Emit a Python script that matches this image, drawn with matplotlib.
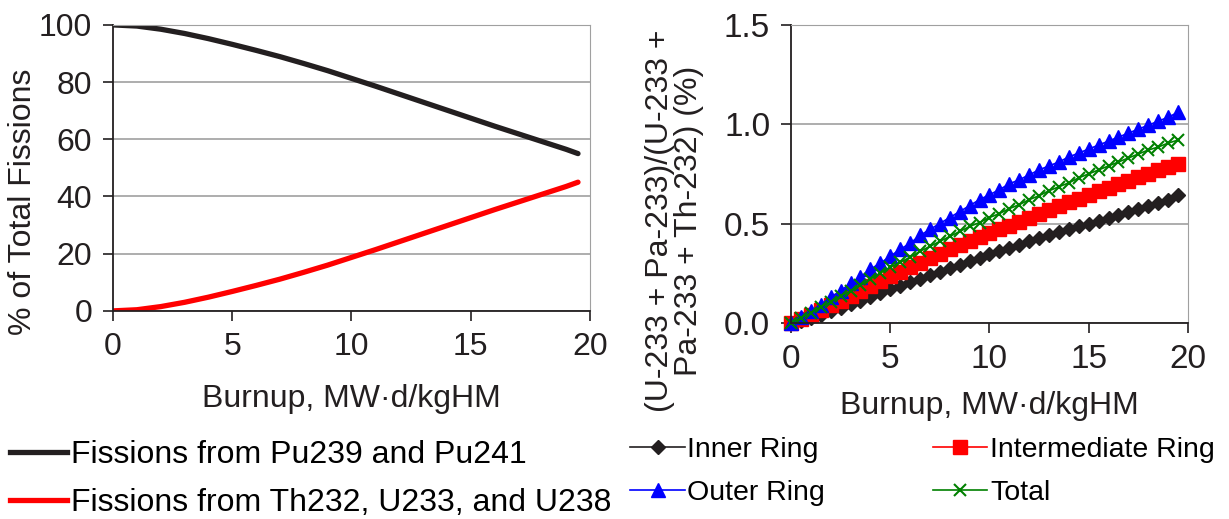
import matplotlib.pyplot as plt
from matplotlib.lines import Line2D

plt.rcParams['font.family'] = ['Liberation Sans', 'DejaVu Sans']

# left panel: share of fissions vs burnup
burnup_a = [0, 1, 2, 3, 4, 5, 6, 7, 8, 9, 10, 11, 12, 13, 14, 15, 16, 17, 18, 19, 19.5]
pu_fis = [100, 99.6, 98.5, 97.0, 95.2, 93.2, 91.1, 88.9, 86.5, 84.0, 81.3,
          78.6, 75.8, 73.0, 70.2, 67.4, 64.6, 61.9, 59.2, 56.5, 55.0]
th_fis = [0, 0.4, 1.5, 3.0, 4.8, 6.8, 8.9, 11.1, 13.5, 16.0, 18.7,
          21.4, 24.2, 27.0, 29.8, 32.6, 35.4, 38.1, 40.8, 43.5, 45.0]

# right panel: U-233 + Pa-233 fraction by ring
burnup_b = [i * 0.5 for i in range(40)]
inner = [0.0, 0.01, 0.025, 0.04, 0.06, 0.075, 0.095, 0.11, 0.13, 0.15,
         0.17, 0.185, 0.205, 0.22, 0.24, 0.255, 0.275, 0.29, 0.31, 0.325,
         0.345, 0.36, 0.375, 0.39, 0.41, 0.425, 0.44, 0.455, 0.47, 0.485,
         0.5, 0.515, 0.53, 0.545, 0.56, 0.575, 0.59, 0.605, 0.62, 0.645]
intermediate = [0.0, 0.02, 0.04, 0.065, 0.09, 0.11, 0.135, 0.16, 0.185, 0.21,
                0.235, 0.255, 0.28, 0.3, 0.325, 0.345, 0.37, 0.39, 0.41, 0.43,
                0.45, 0.47, 0.49, 0.51, 0.53, 0.55, 0.57, 0.59, 0.61, 0.625,
                0.645, 0.665, 0.68, 0.7, 0.715, 0.735, 0.75, 0.77, 0.785, 0.8]
outer = [0.0, 0.03, 0.06, 0.09, 0.13, 0.16, 0.2, 0.23, 0.27, 0.3,
         0.335, 0.37, 0.4, 0.44, 0.47, 0.5, 0.53, 0.56, 0.59, 0.62,
         0.645, 0.67, 0.7, 0.72, 0.745, 0.77, 0.79, 0.81, 0.835, 0.855,
         0.875, 0.895, 0.915, 0.935, 0.955, 0.975, 0.995, 1.015, 1.035, 1.06]
total = [0.0, 0.025, 0.05, 0.08, 0.105, 0.135, 0.16, 0.19, 0.22, 0.25,
         0.28, 0.305, 0.33, 0.36, 0.385, 0.41, 0.435, 0.46, 0.485, 0.505,
         0.53, 0.55, 0.575, 0.595, 0.62, 0.64, 0.665, 0.685, 0.705, 0.73,
         0.75, 0.77, 0.79, 0.81, 0.83, 0.85, 0.87, 0.885, 0.905, 0.92]

fig = plt.figure(figsize=(12.29, 5.19), dpi=100)
ax1 = fig.add_axes([0.092, 0.401, 0.388, 0.551])
ax2 = fig.add_axes([0.6436, 0.378, 0.323, 0.574])

ink = '#231f20'


def style_axes(ax, fs):
    ax.grid(axis='y', color='#a0a0a0', linewidth=1.2)
    ax.set_axisbelow(True)
    for s in ['top', 'right']:
        ax.spines[s].set_color('#a0a0a0')
    for s in ['left', 'bottom']:
        ax.spines[s].set_color(ink)
        ax.spines[s].set_linewidth(1.3)
    ax.tick_params(labelsize=fs, colors=ink, length=7, width=1.2, pad=8)


ax1.plot(burnup_a, pu_fis, color=ink, lw=3.8, solid_capstyle='round')
ax1.plot(burnup_a, th_fis, color='#ff0000', lw=3.8, solid_capstyle='round')
ax1.set_xlim(0, 20)
ax1.set_ylim(0, 100)
ax1.set_xticks([0, 5, 10, 15, 20])
ax1.set_yticks([0, 20, 40, 60, 80, 100])
style_axes(ax1, 23)
ax1.set_xlabel('Burnup, MW\u00b7d/kgHM', fontsize=23, color=ink, labelpad=16)
ax1.set_ylabel('% of Total Fissions', fontsize=23, color=ink)
ax1.yaxis.set_label_coords(-0.157, 0.381)

ax2.plot(burnup_b, inner, color=ink, marker='D', ms=7.5, lw=1.2, clip_on=False)
ax2.plot(burnup_b, intermediate, color='#ff0000', marker='s', ms=9.8, lw=1.2, clip_on=False)
ax2.plot(burnup_b, outer, color='#0000ff', marker='^', ms=10.5, lw=1.2, clip_on=False)
ax2.plot(burnup_b, total, color='#008000', marker='x', ms=8, mew=1.5, lw=1.2, clip_on=False)
ax2.set_xlim(0, 20)
ax2.set_ylim(0, 1.5)
ax2.set_xticks([0, 5, 10, 15, 20])
ax2.set_yticks([0.0, 0.5, 1.0, 1.5])
ax2.set_yticklabels(['0.0', '0.5', '1.0', '1.5'])
style_axes(ax2, 24)
ax2.set_xlabel('Burnup, MW\u00b7d/kgHM', fontsize=23, color=ink, labelpad=12)
ax2.set_ylabel('(U-233 + Pa-233)/(U-233 +\nPa-233 + Th-232) (%)', fontsize=23,
               color=ink, linespacing=0.95)
ax2.yaxis.set_label_coords(-0.219, 0.342)

left_handles = [Line2D([], [], color=ink, lw=3.8),
                Line2D([], [], color='#ff0000', lw=3.8)]
fig.legend(left_handles,
           ['Fissions from Pu239 and Pu241', 'Fissions from Th232, U233, and U238'],
           loc='upper left', bbox_to_anchor=(0.008, 0.152), frameon=False,
           fontsize=23, handlelength=1.8, handletextpad=0.1, labelspacing=0.55,
           borderaxespad=0, borderpad=0)

right_handles = [Line2D([], [], color=ink, marker='D', ms=7.5, lw=1.2),
                 Line2D([], [], color='#0000ff', marker='^', ms=10.5, lw=1.2),
                 Line2D([], [], color='#ff0000', marker='s', ms=9.8, lw=1.2),
                 Line2D([], [], color='#008000', marker='x', ms=8, mew=1.5, lw=1.2)]
fig.legend(right_handles, ['Inner Ring', 'Outer Ring', 'Intermediate Ring', 'Total'],
           ncol=2, loc='upper left', bbox_to_anchor=(0.513, 0.158), frameon=False,
           fontsize=20.5, handlelength=1.9, handletextpad=0.1, labelspacing=0.6,
           columnspacing=3.8, borderaxespad=0, borderpad=0)

fig.savefig('out.png', dpi=100)
